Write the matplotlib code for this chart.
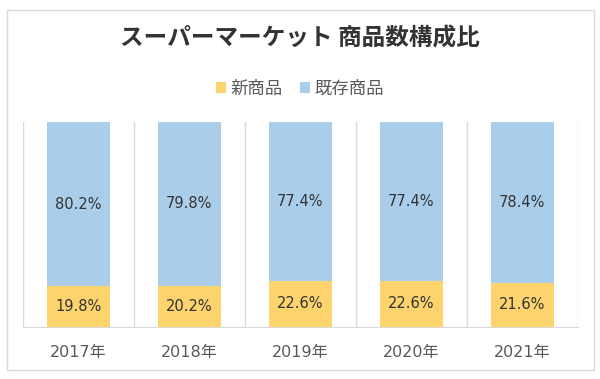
import matplotlib.pyplot as plt
import numpy as np
from matplotlib.patches import Rectangle

plt.rcParams['font.family'] = ['Noto Sans CJK JP', 'DejaVu Sans']

# データ
years = ["2017年", "2018年", "2019年", "2020年", "2021年"]
new_items = [19.8, 20.2, 22.6, 22.6, 21.6]
existing_items = [80.2, 79.8, 77.4, 77.4, 78.4]

col_new = "#FDD36E"
col_old = "#AACEEA"
grid_col = "#D9D9D9"
num_font = ['DejaVu Sans', 'Noto Sans CJK JP']

fig = plt.figure(figsize=(6, 3.79), dpi=100)
ax = fig.add_axes([0.038, 0.137, 0.925, 0.541])

x = np.arange(len(years))
b1 = ax.bar(x, new_items, width=0.57, color=col_new, label="新商品", zorder=3)
b2 = ax.bar(x, existing_items, width=0.57, bottom=new_items, color=col_old,
            label="既存商品", zorder=3)

for i in range(len(years)):
    ax.text(x[i], new_items[i] / 2, f"{new_items[i]:.1f}%", ha="center",
            va="center", fontsize=10.5, color="#333333", zorder=4, family=num_font)
    ax.text(x[i], new_items[i] + existing_items[i] / 2, f"{existing_items[i]:.1f}%",
            ha="center", va="center", fontsize=10.5, color="#333333", zorder=4,
            family=num_font)

ax.set_xlim(-0.5, len(years) - 0.5)
ax.set_ylim(0, 100)
ax.set_yticks([])
ax.set_xticks(x)
ax.set_xticklabels(years, fontsize=11.5, color="#595959", family=num_font)
ax.tick_params(axis="x", length=0, pad=13)
ax.set_xticks(np.arange(-0.5, len(years)), minor=True)
ax.tick_params(axis="x", which="minor", length=0)
ax.grid(axis="x", which="minor", color=grid_col, linewidth=1, zorder=0)
for s in ["top", "right", "left"]:
    ax.spines[s].set_visible(False)
ax.spines["bottom"].set_color(grid_col)

fig.text(0.5, 0.898, "スーパーマーケット 商品数構成比", ha="center", va="center",
         fontsize=17, fontweight="bold", color="#333333")
fig.legend(handles=[b1, b2], loc="center", bbox_to_anchor=(0.5, 0.765), ncol=2,
           frameon=False, fontsize=12.5, handlelength=0.6, handleheight=0.6,
           handletextpad=0.25, columnspacing=1.0, labelcolor="#595959")

fig.patches.append(Rectangle((0.012, 0.024), 0.978, 0.95, transform=fig.transFigure,
                             fill=False, edgecolor=grid_col, linewidth=1))

fig.savefig("out.png", dpi=100)
